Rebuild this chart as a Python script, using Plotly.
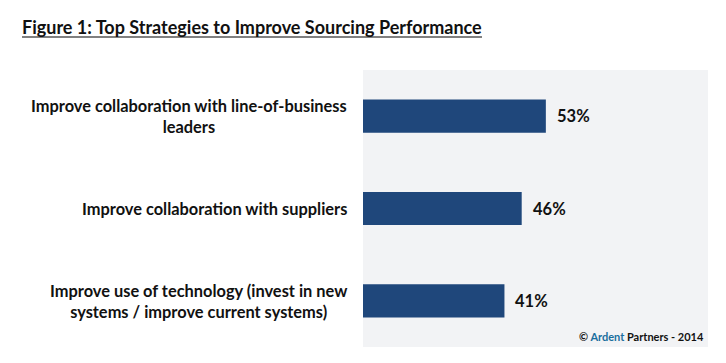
import plotly.graph_objects as go

categories = [
    "Improve collaboration with line-of-business<br>leaders",
    "Improve collaboration with suppliers",
    "Improve use of technology (invest in new<br>systems / improve current systems)",
]
values = [53, 46, 41]
value_labels = ["53%", "46%", "41%"]

FONT = "Lato"
BAR = "#1f477b"
TXT = "#111111"

fig = go.Figure()
fig.add_trace(go.Bar(
    x=values, y=list(range(len(categories))), orientation="h",
    marker=dict(color=BAR, line=dict(width=0)), width=0.36,
    hoverinfo="skip",
))

for i, (v, lab) in enumerate(zip(values, value_labels)):
    fig.add_annotation(x=v, y=i, xref="x", yref="y", text="<b>%s</b>" % lab,
                       showarrow=False, xanchor="left", xshift=9,
                       font=dict(family=FONT, size=16.5, color=TXT))
for i, c in enumerate(categories):
    fig.add_annotation(x=0, y=i, xref="paper", yref="y", text="<b>%s</b>" % c,
                       showarrow=False, xanchor="right", xshift=-14, align="center",
                       font=dict(family=FONT, size=16.4, color=TXT))

fig.add_annotation(x=1, y=0, xref="paper", yref="paper", xanchor="right", yanchor="bottom",
                   xshift=-2, yshift=2,
                   text="<b>© <span style='color:#1a6e9e'>Ardent</span> Partners - 2014</b>",
                   showarrow=False, font=dict(family=FONT, size=11, color=TXT))

fig.update_layout(
    width=726, height=363,
    margin=dict(l=363, r=18, t=70, b=16),
    paper_bgcolor="white", plot_bgcolor="#f2f3f5",
    showlegend=False,
    title=dict(text="<b>Figure 1: Top Strategies to Improve Sourcing Performance</b>",
               x=22/726, xanchor="left", y=1-28/363, yanchor="middle",
               font=dict(family=FONT, size=18, color=TXT)),
    xaxis=dict(range=[0, 100], showgrid=False, zeroline=False, showticklabels=False,
               fixedrange=True),
    yaxis=dict(range=[2.5, -0.5], showgrid=False, zeroline=False, showticklabels=False,
               fixedrange=True),
)
fig.add_shape(type="line", xref="paper", yref="paper",
              x0=-341/345, x1=(482-363)/345, y0=1+(70-37)/277, y1=1+(70-37)/277,
              line=dict(color="#808080", width=2))
fig.write_html("out.html", config={"displayModeBar": False},
               post_script="document.body.style.margin='0';document.body.style.overflow='hidden';")
